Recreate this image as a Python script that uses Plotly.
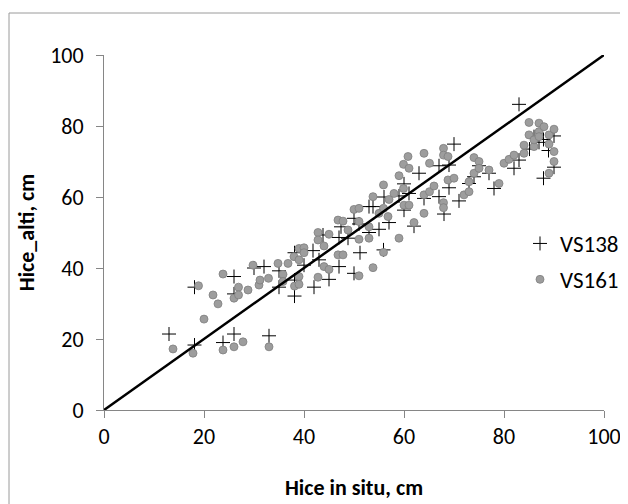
import plotly.graph_objects as go

# VS138 (black crosses)
vs138_x = [13.0, 18.1, 18.1, 23.8, 26.0, 26.0, 26.0, 33.0, 32.0, 30.0, 35.0, 35.0,
           38.1, 38.1, 38.1, 40.0, 42.0, 41.8, 43.0, 43.8, 45.0, 47.0, 47.0, 47.4,
           48.8, 50.0, 50.0, 51.2, 51.0, 53.0, 53.8, 53.0, 55.0, 56.0, 55.9, 57.0,
           59.0, 60.0, 60.0, 61.0, 62.0, 63.0, 64.0, 67.0, 67.0, 68.0, 69.0, 69.0,
           70.0, 71.0, 73.0, 74.0, 75.0, 77.0, 78.0, 82.0, 83.0, 83.0, 85.1, 86.0,
           87.0, 87.9, 87.9, 88.9, 90.0, 90.0]
vs138_y = [21.4, 34.6, 18.3, 19.0, 21.4, 37.6, 32.7, 20.9, 40.4, 40.0, 34.6, 39.2,
           32.1, 36.6, 44.3, 40.8, 34.6, 44.9, 42.3, 49.3, 36.8, 40.4, 48.6, 51.6,
           48.4, 54.0, 38.5, 44.3, 52.4, 57.3, 57.3, 50.0, 50.9, 60.0, 45.1, 52.8,
           60.3, 56.3, 63.7, 61.0, 51.8, 66.7, 59.6, 60.1, 68.8, 55.2, 62.6, 69.0,
           74.9, 58.9, 63.8, 65.7, 68.8, 66.7, 62.4, 68.1, 70.4, 86.1, 73.5, 77.0,
           75.4, 76.2, 65.3, 73.1, 77.2, 68.4]

# VS161 (grey circles)
vs161_x = [13.8, 17.8, 18.9, 20.0, 21.8, 22.8, 23.8, 23.8, 26.0, 26.0, 26.9, 26.9,
           27.8, 28.8, 29.8, 31.0, 31.2, 33.0, 32.9, 34.8, 35.8, 35.8, 36.8, 38.1,
           38.0, 39.0, 39.0, 39.0, 39.0, 40.0, 40.0, 42.8, 42.8, 42.8, 44.0, 44.0,
           45.0, 45.0, 46.8, 46.8, 47.8, 47.8, 48.8, 50.0, 51.0, 51.0, 51.0, 51.0,
           53.0, 53.0, 53.8, 53.8, 55.0, 55.9, 55.9, 55.9, 56.8, 57.0, 58.0, 59.0,
           59.0, 59.9, 59.9, 60.0, 60.8, 61.0, 61.0, 62.0, 64.0, 64.0, 64.0, 65.1,
           65.1, 66.0, 67.9, 67.9, 67.9, 67.9, 68.8, 68.8, 70.0, 72.0, 73.0, 73.0,
           74.0, 74.0, 75.0, 75.0, 77.0, 79.0, 80.0, 81.0, 82.0, 84.0, 84.0, 85.0,
           85.0, 86.0, 87.0, 87.0, 88.0, 89.0, 89.0, 89.0, 90.0, 90.0, 90.0, 86.0,
           87.0]
vs161_y = [17.2, 16.0, 35.0, 25.6, 32.4, 29.9, 38.3, 16.9, 17.8, 31.5, 34.6, 32.4,
           19.2, 33.8, 40.8, 35.2, 36.6, 17.8, 37.1, 41.3, 38.2, 36.2, 41.3, 34.9,
           43.2, 45.5, 42.3, 37.6, 35.4, 45.7, 44.3, 50.0, 47.9, 37.4, 46.2, 40.4,
           49.5, 39.6, 53.5, 43.7, 53.2, 43.7, 50.7, 56.5, 56.8, 53.1, 48.1, 37.8,
           48.4, 51.6, 60.1, 40.1, 55.4, 63.4, 56.8, 44.4, 54.5, 59.3, 61.0, 66.0,
           48.4, 69.2, 62.4, 57.7, 71.4, 68.1, 57.7, 52.8, 72.3, 55.4, 60.6, 69.5,
           61.5, 63.1, 73.7, 71.8, 58.4, 57.0, 71.4, 64.8, 65.3, 60.6, 64.3, 61.5,
           71.1, 66.7, 70.0, 68.1, 67.6, 63.8, 69.5, 70.6, 71.8, 74.6, 72.3, 81.0,
           77.5, 74.2, 80.8, 78.4, 79.8, 77.5, 74.9, 66.7, 79.1, 72.8, 70.0, 76.1,
           77.0]

# 1:1 line
line_x = [0, 100]
line_y = [0, 100]

x_title = "Hice in situ, cm"
y_title = "Hice_alti, cm"

FONT = "Carlito, Lato, sans-serif"

fig = go.Figure()
fig.add_trace(go.Scatter(
    x=vs138_x, y=vs138_y, mode="markers", name="VS138", legendgroup="a",
    marker=dict(symbol="cross-thin", size=10, color="black",
                line=dict(color="black", width=1)),
))
fig.add_trace(go.Scatter(
    x=vs161_x, y=vs161_y, mode="markers", name="VS161", legendgroup="b",
    marker=dict(symbol="circle", size=8, color="#9d9d9d",
                line=dict(color="#7f7f7f", width=0.8)),
))
fig.add_trace(go.Scatter(
    x=line_x, y=line_y, mode="lines", showlegend=False,
    line=dict(color="black", width=2.5), hoverinfo="skip",
))

# page has an 8px body margin; page coords -> figure coords
OFF = 8
W, H = 628 - OFF, 504 - OFF
PL, PR, PT, PB = 104, 604, 55, 410  # plot area in page coords
L, T = PL - OFF, PT - OFF
R, B = W - (PR - OFF), H - (PB - OFF)
pw, ph = W - L - R, H - T - B

def px_x(p):
    return (p - OFF - L) / pw

def px_y(p):
    return (H - B - (p - OFF)) / ph

fig.update_layout(
    width=W, height=H,
    margin=dict(l=L, r=R, t=T, b=B, autoexpand=False),
    paper_bgcolor="white", plot_bgcolor="white",
    font=dict(family=FONT, size=22, color="black"),
    showlegend=True,
    legend=dict(x=px_x(520), y=px_y(222), xanchor="left", yanchor="top",
                bgcolor="rgba(0,0,0,0)", tracegroupgap=3,
                font=dict(family=FONT, size=23, color="black"),
                itemsizing="trace"),
    xaxis=dict(range=[0, 100], tickvals=[0, 20, 40, 60, 80, 100],
               automargin=False,
               showgrid=False, zeroline=False, showline=True,
               linecolor="#868686", linewidth=1,
               ticks="outside", ticklen=7, tickcolor="#868686",
               tickfont=dict(family=FONT, size=22),
               title=dict(text="<b>" + x_title + "</b>", font=dict(family=FONT, size=22),
                          standoff=30)),
    yaxis=dict(range=[0, 100], tickvals=[0, 20, 40, 60, 80, 100],
               automargin=False,
               showgrid=False, zeroline=False, showline=True,
               linecolor="#868686", linewidth=1,
               ticks="outside", ticklen=7, tickcolor="#868686",
               ticklabelstandoff=8,
               tickfont=dict(family=FONT, size=22),
               title=dict(text="<b>" + y_title + "</b>", font=dict(family=FONT, size=22),
                          standoff=9)),
    shapes=[dict(type="rect", xref="paper", yref="paper",
                 x0=px_x(9), x1=px_x(700), y0=px_y(600), y1=px_y(13),
                 line=dict(color="#9a9a9a", width=1), fillcolor="rgba(0,0,0,0)",
                 layer="below")],
)

fig.write_html("out.html")
